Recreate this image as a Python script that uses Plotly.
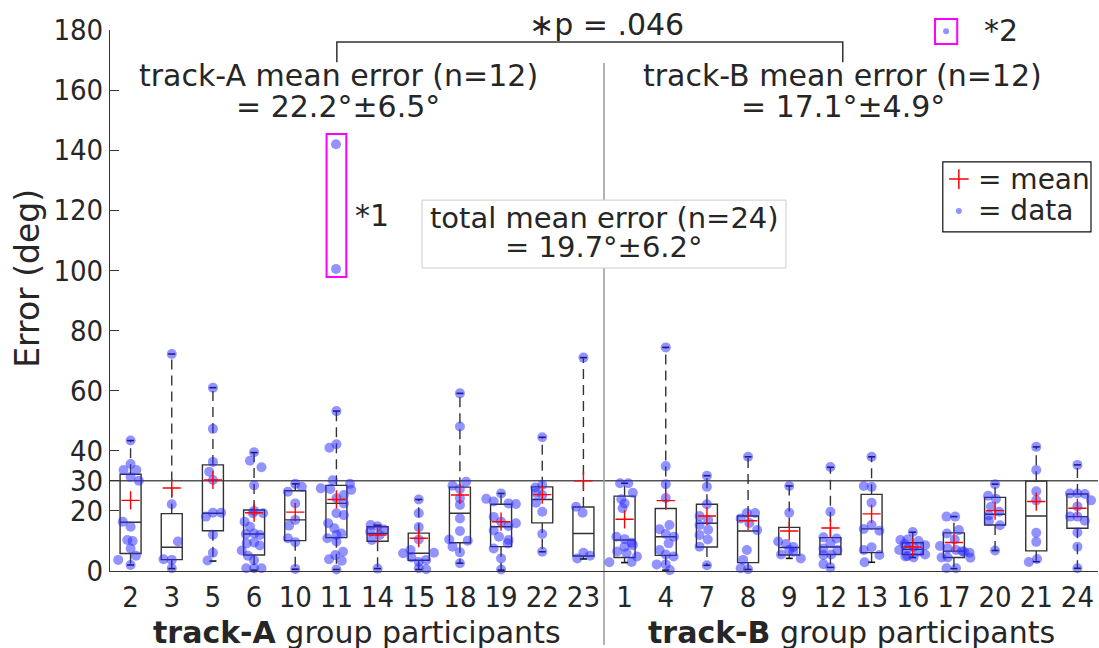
import plotly.graph_objects as go

# ---------------- data ----------------
participants = [2, 3, 5, 6, 10, 11, 14, 15, 18, 19, 22, 23,
                1, 4, 7, 8, 9, 12, 13, 16, 17, 20, 21, 24]
q1 = [5.8, 3.8, 13.4, 5.3, 10.1, 11.1, 9.9, 3.6, 9.4, 8.1, 16.0, 5.0,
      4.5, 5.2, 8.0, 2.8, 5.3, 5.5, 6.1, 5.5, 4.5, 15.3, 6.7, 14.2]
median = [16.2, 7.9, 19.2, 12.3, 17.0, 22.5, 12.5, 5.9, 19.2, 14.7, 23.8, 12.5,
          10.3, 11.4, 15.9, 13.3, 7.8, 8.0, 14.0, 7.2, 6.6, 18.9, 18.3, 18.1]
q3 = [32.2, 19.1, 35.3, 20.3, 26.7, 28.5, 14.7, 12.6, 27.9, 22.2, 28.0, 21.3,
      24.9, 20.8, 22.2, 18.3, 14.5, 11.1, 25.5, 9.4, 12.7, 24.5, 29.9, 25.6]
whisker_lo = [2.0, 0.8, 3.3, 0.3, 0.6, 0.5, 0.8, 0.5, 2.6, 0.3, 6.4, 4.0,
              2.8, 0.3, 1.9, 0.5, 4.2, 1.2, 2.9, 4.5, 0.8, 6.8, 3.1, 0.9]
whisker_hi = [43.4, 72.2, 61.0, 39.4, 29.0, 53.2, 15.2, 23.8, 59.1, 25.8, 44.5, 71.0,
              29.2, 74.4, 31.7, 38.0, 28.3, 34.5, 38.0, 12.9, 18.1, 28.9, 41.3, 35.3]
means = [23.5, 27.6, 30.3, 19.4, 19.6, 23.8, 12.0, 10.9, 25.3, 16.4, 25.4, 30.0,
         17.2, 23.4, 18.3, 16.7, 13.3, 14.3, 19.0, 8.0, 9.5, 20.1, 23.1, 20.9]

# individual trial errors (deg) and their horizontal jitter (category units)
err_p02 = [43.4, 35.6, 33.6, 33.6, 31.3, 30.0, 16.4, 14.7, 10.3, 10.0, 7.5, 5.1, 3.7, 2.0]
jit_p02 = [0, 0, -0.17, 0.14, 0, 0.2, -0.19, 0, -0.08, 0.05, 0, 0.13, -0.3, 0]
err_p03 = [72.2, 22.2, 9.8, 3.9, 3.7, 0.9]
jit_p03 = [0, 0, 0.15, -0.2, 0, 0]
err_p05 = [61.0, 47.3, 36.3, 33.0, 30.3, 19.4, 19.4, 18.1, 12.1, 6.1, 3.5]
jit_p05 = [0, 0, 0, -0.09, 0, 0, 0.2, -0.17, 0, 0, -0.13]
err_p06 = [39.5, 36.7, 34.5, 28.5, 20.0, 19.2, 19.2, 16.4, 14.7, 12.5, 12.0, 12.3,
           9.2, 9.5, 8.5, 6.8, 5.1, 3.6, 0.9, 0.9, 0.9]
jit_p06 = [0, -0.1, 0.18, 0, 0, -0.03, 0.22, -0.23, -0.1, 0, 0.14, -0.2,
           -0.18, 0, 0.14, -0.3, -0.15, 0, -0.19, 0, 0.18]
err_p10 = [29.0, 28.0, 26.4, 22.5, 17.0, 15.1, 10.9, 9.6, 0.7]
jit_p10 = [0, 0.16, -0.18, 0, 0, -0.15, -0.18, 0, 0]
err_p11 = [142.0, 100.5, 53.2, 42.2, 41.0, 30.2, 29.0, 27.5, 27.3, 27.0, 25.3, 24.2,
           22.5, 19.2, 18.6, 15.9, 14.2, 12.5, 12.0, 10.9, 9.8, 6.4, 5.3, 3.9, 3.4, 0.5]
jit_p11 = [-0.01, -0.01, 0, 0, -0.17, -0.09, 0.33, -0.38, -0.15, 0.36, 0.18, 0,
           0.18, 0, 0.18, -0.2, -0.05, 0.12, 0, -0.22, 0, 0.16, -0.03, -0.18, 0.13, 0]
err_p14 = [15.3, 14.9, 13.8, 13.1, 12.0, 10.3, 0.8]
jit_p14 = [-0.17, 0, 0.15, -0.18, 0.05, -0.14, 0]
err_p15 = [23.8, 19.2, 14.6, 10.5, 7.0, 5.9, 6.1, 4.5, 3.7, 3.0, 0.9, 0.6]
jit_p15 = [0, 0, 0, 0, -0.2, -0.38, 0.37, -0.18, 0.18, 0, 0, 0.18]
err_p18 = [59.1, 48.1, 29.7, 28.4, 27.3, 24.2, 22.0, 17.5, 13.3, 10.5, 10.1, 8.1, 6.2, 2.6]
jit_p18 = [0, 0, 0.15, -0.18, 0, 0, 0, 0, 0, -0.26, 0.19, -0.18, 0, 0]
err_p19 = [25.8, 24.0, 23.1, 22.5, 22.3, 18.0, 16.4, 15.9, 15.0, 13.5, 11.4, 10.3,
           9.2, 7.5, 4.2, 0.5]
jit_p19 = [0, -0.36, -0.18, 0.18, 0.36, -0.18, 0, 0.36, 0.18, -0.18, -0.05, 0.18,
           0.16, -0.18, 0, 0]
err_p22 = [44.5, 28.6, 27.8, 26.0, 25.3, 22.7, 19.7, 12.3, 6.4]
jit_p22 = [0, 0, -0.17, -0.15, 0, -0.15, 0, 0, 0]
err_p23 = [71.0, 21.4, 19.4, 6.1, 5.1, 4.2]
jit_p23 = [0, -0.18, -0.02, 0, 0.16, -0.15]
err_p01 = [29.2, 29.2, 26.0, 23.9, 22.5, 20.9, 11.4, 10.6, 9.4, 8.6, 8.1, 6.5,
           5.9, 4.8, 3.0, 2.9]
jit_p01 = [-0.11, 0.09, 0.2, -0.08, 0, -0.05, -0.2, 0, 0.17, 0.2, 0, -0.18,
           0.05, 0.3, 0.17, -0.37]
err_p04 = [74.4, 34.9, 28.9, 24.3, 15.3, 13.9, 12.3, 11.4, 9.2, 7.0, 5.5, 4.8, 2.2, 2.2, 0.3]
jit_p04 = [0, 0, 0, 0, 0.09, -0.15, 0, 0.2, 0.07, -0.15, 0, 0.19, -0.22, 0, 0.1]
err_p07 = [31.7, 28.0, 22.2, 18.3, 17.0, 15.3, 13.7, 12.0, 10.5, 8.1, 1.9]
jit_p07 = [0, 0, 0, -0.18, 0.03, -0.18, 0.03, -0.18, 0.02, -0.18, 0]
err_p08 = [38.0, 19.3, 19.3, 17.5, 16.0, 13.6, 7.0, 3.7, 0.9, 0.6]
jit_p08 = [0, -0.03, 0.17, -0.18, 0.03, 0.22, -0.03, -0.12, -0.18, 0]
err_p09 = [28.3, 19.4, 9.8, 9.0, 8.0, 7.0, 6.4, 5.5, 4.2]
jit_p09 = [0, 0, -0.27, -0.08, 0.1, 0, 0.1, -0.2, 0.28]
err_p12 = [34.6, 19.7, 11.2, 10.8, 9.2, 7.5, 7.0, 5.5, 5.3, 2.3, 1.2]
jit_p12 = [0, 0, -0.17, 0.15, 0, -0.17, 0.17, 0.02, -0.17, -0.17, 0]
err_p13 = [38.0, 28.3, 28.0, 22.7, 15.3, 14.0, 13.4, 7.9, 7.0, 5.3, 2.9]
jit_p13 = [0, -0.19, 0, 0, 0, -0.19, 0.19, 0, -0.19, 0.19, -0.17]
err_p16 = [13.0, 10.3, 10.5, 10.0, 9.0, 8.6, 8.0, 7.5, 7.0, 6.5, 5.5, 5.0, 4.8, 4.5]
jit_p16 = [0, -0.3, -0.13, 0.14, -0.2, 0.3, 0.02, -0.12, -0.33, 0.15, 0.3, -0.13, -0.18, 0.02]
err_p17 = [18.1, 18.1, 13.6, 12.5, 10.5, 8.3, 7.5, 7.0, 6.6, 6.4, 6.1, 4.5, 4.4, 4.5, 0.9, 0.9]
jit_p17 = [-0.18, 0.03, 0.12, -0.17, 0.02, -0.34, -0.15, 0.05, 0.2, 0.25, 0.38, -0.3,
           0.4, -0.15, -0.18, 0.05]
err_p20 = [28.9, 25.0, 24.0, 21.4, 19.7, 18.5, 16.6, 15.2, 6.8]
jit_p20 = [0, -0.17, 0.02, -0.1, 0.1, -0.15, -0.15, 0.12, 0]
err_p21 = [41.3, 33.6, 26.5, 23.5, 12.7, 9.7, 4.0, 3.0]
jit_p21 = [0, 0, 0, 0, 0, 0, 0.02, -0.18]
err_p24 = [35.3, 25.8, 25.8, 25.6, 23.5, 21.5, 18.1, 18.1, 16.7, 12.8, 8.1, 0.9]
jit_p24 = [0, -0.18, 0, 0.18, 0.33, 0, -0.18, 0, 0.18, 0, 0, 0]

errors = [err_p02, err_p03, err_p05, err_p06, err_p10, err_p11, err_p14, err_p15,
          err_p18, err_p19, err_p22, err_p23, err_p01, err_p04, err_p07, err_p08,
          err_p09, err_p12, err_p13, err_p16, err_p17, err_p20, err_p21, err_p24]
jitters = [jit_p02, jit_p03, jit_p05, jit_p06, jit_p10, jit_p11, jit_p14, jit_p15,
           jit_p18, jit_p19, jit_p22, jit_p23, jit_p01, jit_p04, jit_p07, jit_p08,
           jit_p09, jit_p12, jit_p13, jit_p16, jit_p17, jit_p20, jit_p21, jit_p24]

y_ticks = [0, 20, 30, 40, 60, 80, 100, 120, 140, 160, 180]

# ---------------- styling ----------------
TICK_FONT = "DejaVu Sans Condensed, DejaVu Sans, sans-serif"
TEXT_FONT = "DejaVu Sans, sans-serif"
TXT = "#262626"
FS_TICK = 29
FS = 30
DOT = "rgba(40,40,255,0.5)"
positions = list(range(1, len(participants) + 1))
BOX_W = 0.51
CAP_W = 0.085

fig = go.Figure()

# boxes (precomputed quartiles)
fig.add_trace(go.Box(
    x=positions, q1=q1, median=median, q3=q3,
    lowerfence=q1, upperfence=q3, width=BOX_W, whiskerwidth=0,
    line=dict(color="#333333", width=1.4), fillcolor="rgba(0,0,0,0)",
    boxpoints=False, showlegend=False, hoverinfo="skip"))

# dashed whiskers
wx, wy = [], []
for p, lo, hi, a, b in zip(positions, whisker_lo, whisker_hi, q1, q3):
    wx += [p, p, None, p, p, None]
    wy += [b, hi, None, a, lo, None]
fig.add_trace(go.Scatter(x=wx, y=wy, mode="lines",
                         line=dict(color="#333333", width=1.4, dash="10px,6px"),
                         showlegend=False, hoverinfo="skip"))
# whisker caps
cx, cy = [], []
for p, lo, hi in zip(positions, whisker_lo, whisker_hi):
    cx += [p - CAP_W, p + CAP_W, None, p - CAP_W, p + CAP_W, None]
    cy += [hi, hi, None, lo, lo, None]
fig.add_trace(go.Scatter(x=cx, y=cy, mode="lines",
                         line=dict(color="#111111", width=1.6),
                         showlegend=False, hoverinfo="skip"))

# data points
px_, py_ = [], []
for p, errs, jits in zip(positions, errors, jitters):
    for e, j in zip(errs, jits):
        px_.append(p + j)
        py_.append(e)
fig.add_trace(go.Scatter(x=px_, y=py_, mode="markers",
                         marker=dict(color=DOT, size=10, line=dict(width=0)),
                         showlegend=False, hoverinfo="skip", cliponaxis=False))

# means
fig.add_trace(go.Scatter(x=positions, y=means, mode="markers",
                         marker=dict(symbol="cross-thin", size=13,
                                     line=dict(color="red", width=1.4)),
                         showlegend=False, hoverinfo="skip"))

# custom legend glyphs and the *2 glyph
fig.add_trace(go.Scatter(x=[21.12], y=[130.4], mode="markers", cliponaxis=False,
                         marker=dict(symbol="cross-thin", size=14,
                                     line=dict(color="red", width=1.5)),
                         showlegend=False, hoverinfo="skip"))
fig.add_trace(go.Scatter(x=[21.12, 20.81], y=[119.8, 179.6], mode="markers",
                         cliponaxis=False,
                         marker=dict(color=DOT, size=6),
                         showlegend=False, hoverinfo="skip"))

shapes = [
    # 30 deg reference line
    dict(type="line", xref="paper", yref="y", x0=0, x1=1, y0=30, y1=30,
         line=dict(color="#555555", width=1.5), layer="below"),
    # group divider
    dict(type="line", xref="x", yref="paper", x0=12.5, x1=12.5, y0=-0.137, y1=0.939,
         line=dict(color="#9a9a9a", width=1.5), layer="below"),
    # total-mean text box
    dict(type="rect", xref="x", yref="y", x0=8.08, x1=16.92, y0=100.8, y1=123.4,
         fillcolor="white", line=dict(color="#cccccc", width=1), layer="above"),
    # legend box
    dict(type="rect", xref="x", yref="y", x0=20.73, x1=24.33, y0=112.8, y1=136.1,
         fillcolor="rgba(255,255,255,0)", line=dict(color="#111111", width=1.2),
         layer="above"),
    # significance bracket
    dict(type="path", xref="x", yref="y",
         path="M 6.01,169.3 L 6.01,176 L 18.3,176 L 18.3,169.3",
         line=dict(color="#333333", width=1.5)),
    # outlier box *1
    dict(type="rect", xref="x", yref="y", x0=5.76, x1=6.24, y0=97.8, y1=145.4,
         line=dict(color="#ff00ff", width=2)),
    # outlier box *2 glyph
    dict(type="rect", xref="x", yref="paper", x0=20.54, x1=21.08, y0=0.974, y1=1.0203,
         line=dict(color="#ff00ff", width=2)),
]

tf = dict(family=TEXT_FONT, size=FS, color=TXT)


def ann(x, y, text, xref="x", yref="y", xanchor="center", **kw):
    d = dict(x=x, y=y, xref=xref, yref=yref, text=text, showarrow=False, font=tf,
             xanchor=xanchor, yanchor="middle")
    d.update(kw)
    return d


lf = dict(family=TEXT_FONT, size=28, color=TXT)
annotations = [
    ann(6.04, 165.0, "track-A mean error (n=12)"),
    ann(6.04, 154.7, "= 22.2°±6.5°"),
    ann(18.3, 165.0, "track-B mean error (n=12)"),
    ann(18.3, 154.7, "= 17.1°±4.9°"),
    ann(12.5, 117.4, "total mean error (n=24)", font=dict(family=TEXT_FONT, size=29, color=TXT)),
    ann(12.5, 107.8, "= 19.7°±6.2°", font=dict(family=TEXT_FONT, size=29, color=TXT)),
    ann(12.55, 1.011, "∗p = .046", yref="paper"),
    ann(6.87, 118.4, "*1"),
    ann(22.15, 1.0, "*2", yref="paper"),
    ann(21.53, 130.4, "= mean", xanchor="left", font=lf),
    ann(21.53, 119.8, "= data", xanchor="left", font=lf),
    ann(6.5, -0.113, "<b>track-A</b> group participants", yref="paper"),
    ann(18.5, -0.113, "<b>track-B</b> group participants", yref="paper"),
    ann(-0.083, 0.542, "Error (deg)", xref="paper", yref="paper", textangle=-90,
        font=dict(family=TEXT_FONT, size=33, color=TXT)),
]

fig.update_layout(
    width=1099, height=648,
    margin=dict(l=110, r=1, t=30, b=77),
    paper_bgcolor="white", plot_bgcolor="white",
    font=dict(family=TEXT_FONT, size=FS, color=TXT),
    shapes=shapes, annotations=annotations,
    showlegend=False,
    xaxis=dict(range=[0.5, 24.5], tickmode="array", tickvals=positions,
               ticktext=[str(p) for p in participants], showgrid=False, zeroline=False,
               showline=True, linecolor="#333333", linewidth=1, ticks="",
               tickfont=dict(family=TICK_FONT, size=FS_TICK, color=TXT)),
    yaxis=dict(range=[0, 180], tickmode="array", tickvals=y_ticks, showgrid=False,
               zeroline=False, showline=True, linecolor="#333333", linewidth=1,
               ticks="inside", ticklen=9, tickcolor="#333333",
               tickfont=dict(family=TICK_FONT, size=FS_TICK, color=TXT)),
)

fig.write_html("out.html")
